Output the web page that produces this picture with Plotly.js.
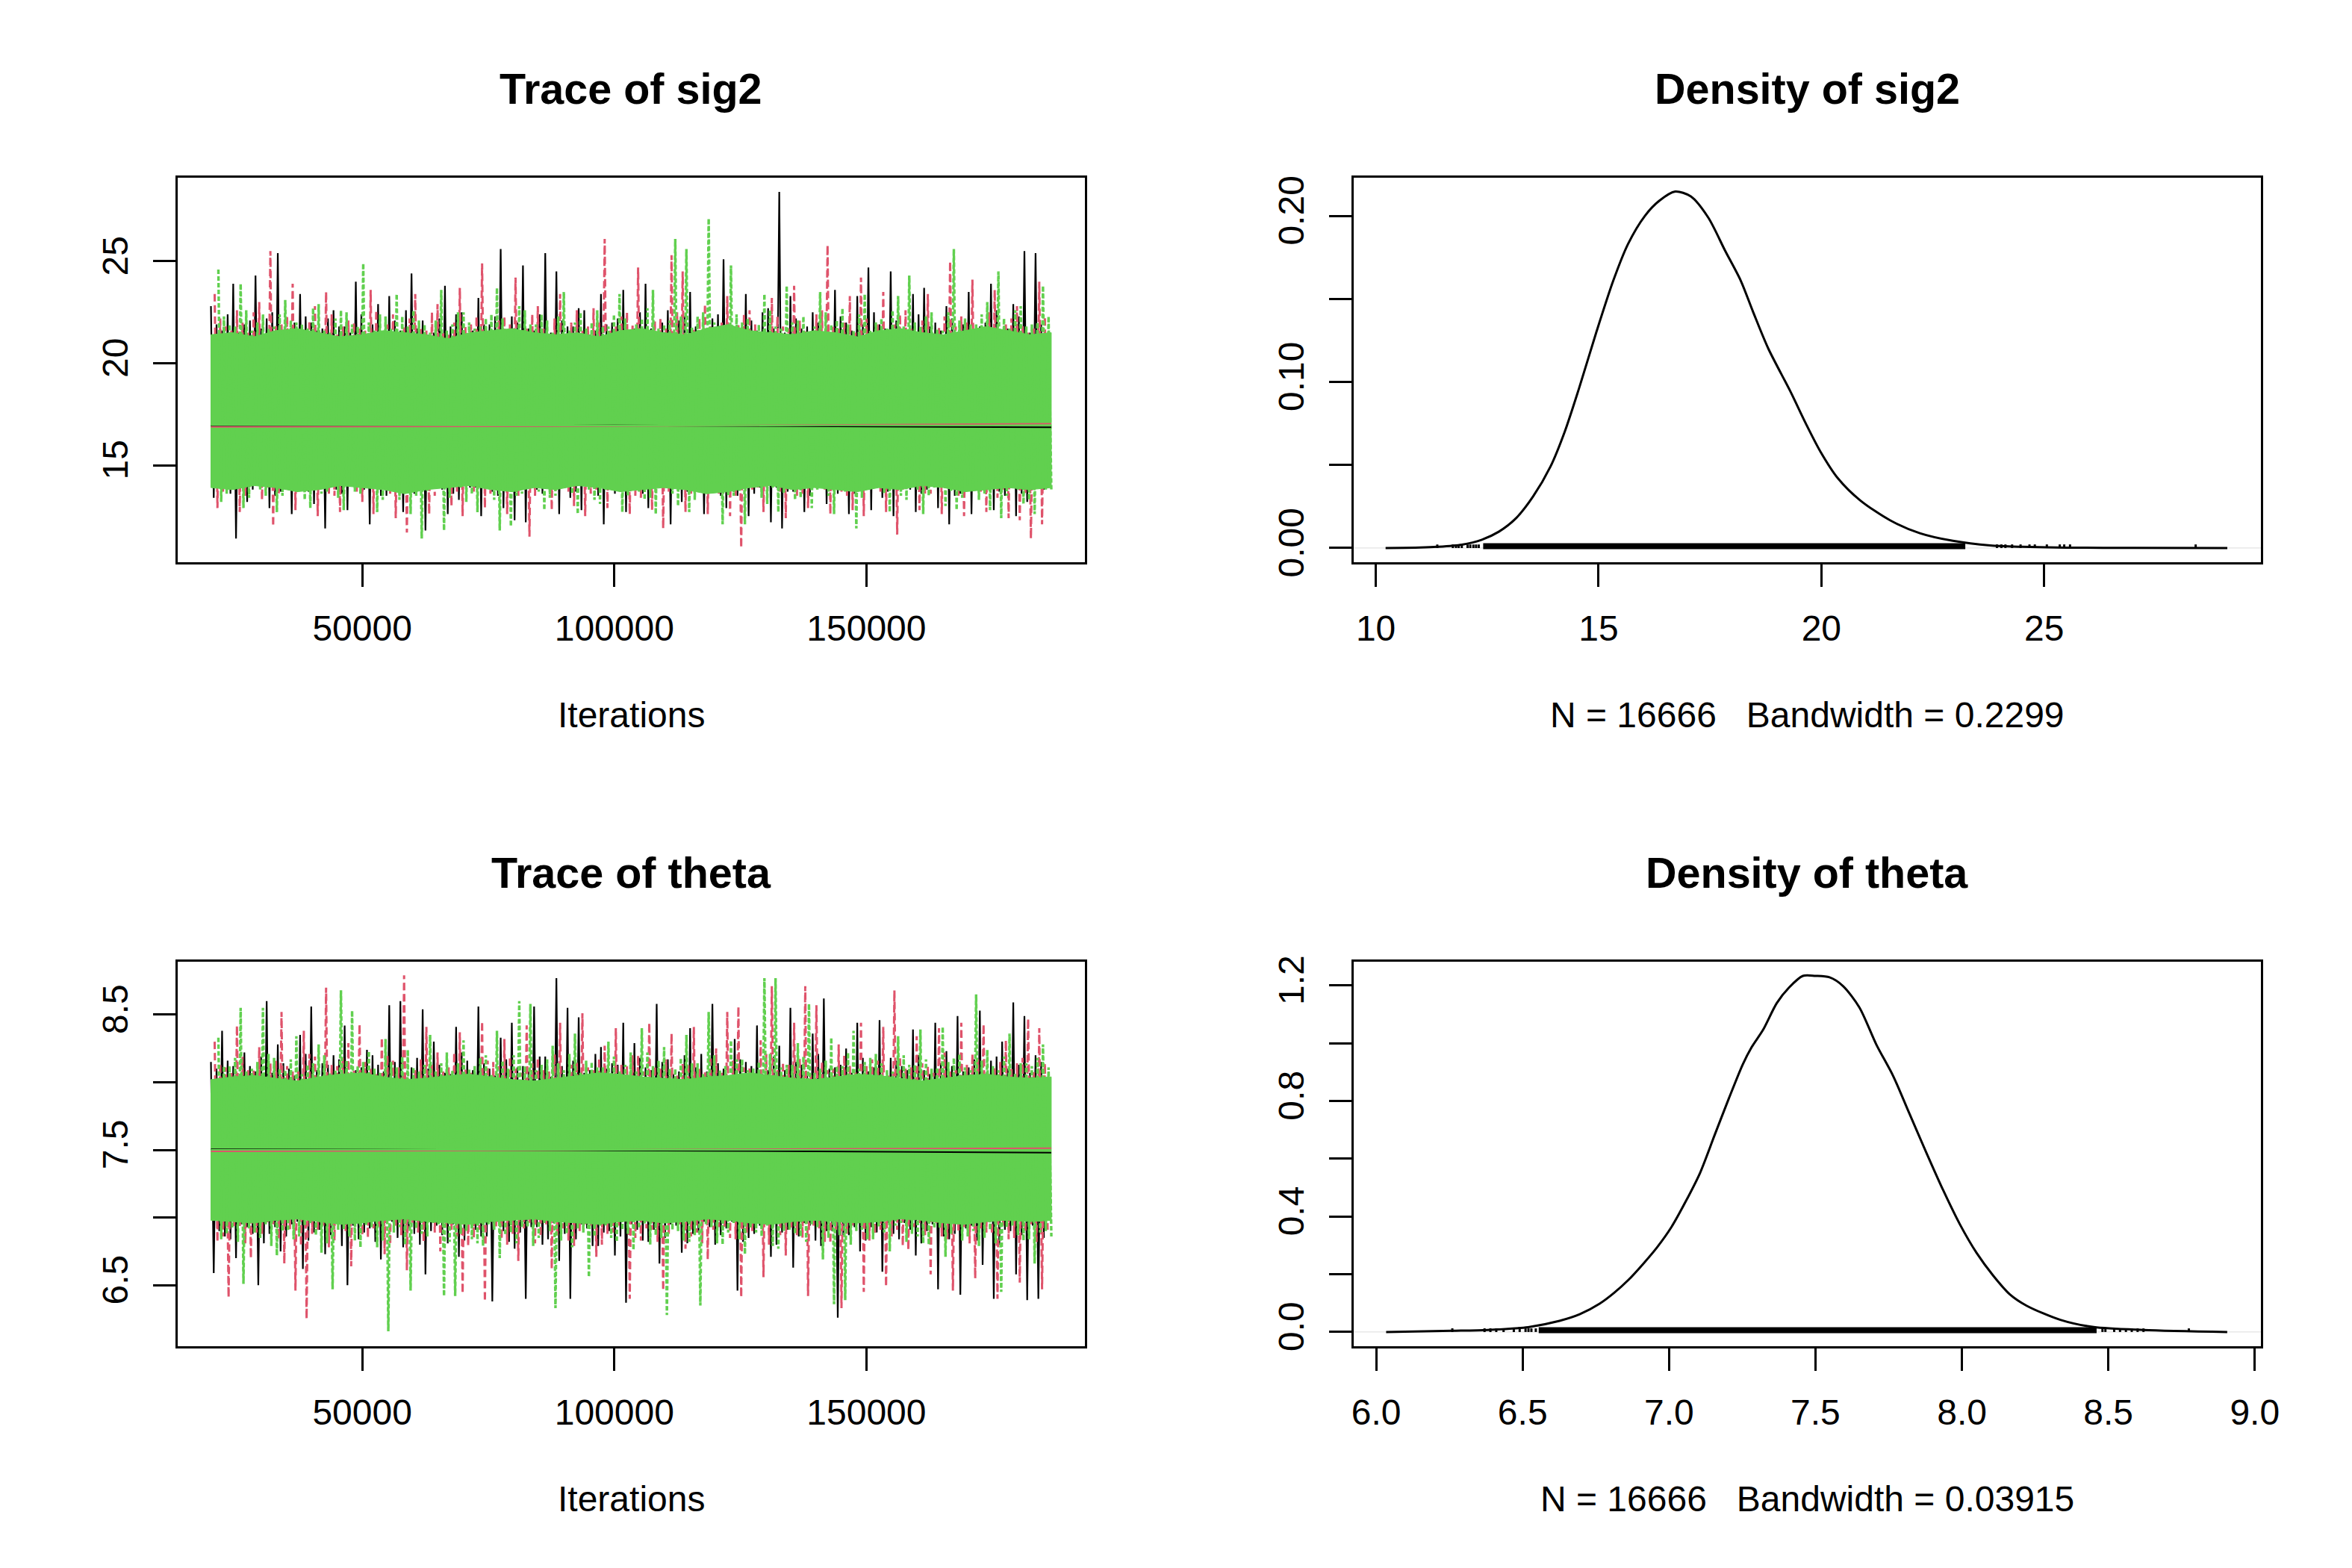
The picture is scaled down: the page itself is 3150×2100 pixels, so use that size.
<!DOCTYPE html>
<html><head><meta charset="utf-8">
<script src="https://cdn.plot.ly/plotly-3.0.1.min.js"></script>
<style>html,body{margin:0;padding:0;background:#fff}#chart{width:3150px;height:2100px}</style>
</head><body><div id="chart"></div><script>
// ---------------- data ----------------
const iterStart = 20000, iterEnd = 186650, blockWidth = 2210;
const traceIterRange = [13334, 193326];

// sig2 trace: per block, the large extremes (Hi/Lo) and the secondary extremes (Hi2/Lo2) of each chain
const sig2BlackHi = [22.8,21.6,23.9,21.9,24.3,22.2,25.4,21.5,23.4,22.0,21.7,22.6,21.8,24.0,21.4,22.9,23.3,21.6,24.4,22.1,21.5,23.8,22.4,21.3,23.2,21.9,25.6,22.3,24.8,21.6,25.4,24.5,21.8,22.7,21.4,23.4,22.0,23.6,21.7,23.9,21.5,22.6,22.1,23.5,21.4,22.2,25.1,21.8,23.4,21.6,22.7,28.4,23.3,21.7,22.5,21.5,23.6,22.0,23.3,24.7,21.9,24.5,21.6,23.4,23.7,22.0,22.8,21.5,23.5,21.8,23.9,21.6,22.9,25.5,25.4];
const sig2BlackLo = [13.4,13.9,11.4,13.2,14.0,12.9,13.7,12.6,14.1,13.1,11.9,13.8,12.8,14.0,12.1,13.5,13.9,12.7,13.6,11.8,14.1,12.6,13.3,13.9,12.5,13.7,12.9,12.3,12.2,13.8,14.0,12.6,13.4,12.8,14.1,12.1,13.6,12.7,13.9,12.9,14.0,12.1,13.2,13.8,12.6,14.1,12.9,13.5,12.5,13.9,12.2,11.9,13.7,12.7,14.0,13.1,13.6,12.6,13.9,12.8,13.4,12.5,14.1,12.7,13.8,12.9,12.1,13.6,12.6,14.0,12.8,13.5,12.5,13.2,13.9];
const sig2BlackHi2 = [21.9,22.4,21.5,22.1,21.7,22.5,21.4,22.0,22.3,21.6,22.2,21.8,21.5,22.4,21.9,21.3,22.1,22.6,21.7,21.4,22.2,21.8,22.5,21.6,21.9,22.3,21.4,22.0,21.7,22.4,21.5,22.1,21.8,22.6,21.6,21.9,22.2,21.4,22.5,21.7,22.0,21.5,22.3,21.8,21.6,22.4,21.9,21.3,22.1,22.5,21.7,21.5,22.2,21.8,22.0,21.4,22.3,21.6,21.9,22.5,21.7,22.1,21.5,22.4,21.8,21.6,22.2,21.9,21.4,22.0,22.6,21.7,22.3,21.5,21.9];
const sig2BlackLo2 = [13.9,13.6,14.2,13.8,14.3,13.5,14.0,14.2,13.7,14.4,13.9,13.6,14.1,13.8,14.3,13.5,14.0,13.7,14.2,14.4,13.8,13.6,14.1,13.9,14.3,13.5,14.0,13.8,14.2,13.6,14.4,13.9,13.7,14.1,13.5,14.2,13.8,14.3,13.6,14.0,13.9,14.2,13.7,14.4,13.8,13.5,14.1,14.0,13.6,14.3,13.9,13.7,14.2,13.5,14.0,13.8,14.4,13.6,14.1,13.9,13.7,14.3,13.8,13.6,14.2,14.0,13.5,14.1,13.9,14.3,13.7,14.0,13.6,14.2,13.8];
const sig2RedHi = [23.4,21.8,22.6,21.5,23.0,25.5,21.9,23.9,21.6,22.8,23.5,21.4,22.1,21.7,23.6,21.5,22.4,21.8,23.4,21.6,22.9,21.4,23.7,21.9,24.9,21.5,22.3,24.2,21.7,22.8,21.4,23.4,22.0,21.6,22.7,26.1,21.8,22.5,24.7,21.5,22.2,25.3,24.5,21.7,22.9,21.5,23.3,21.9,22.6,21.4,23.2,21.8,23.8,21.6,22.4,25.8,21.7,23.3,24.2,21.5,23.5,21.9,22.6,21.4,23.4,21.8,25.0,22.3,24.1,21.6,23.6,21.9,22.8,21.5,24.0];
const sig2RedLo = [12.9,13.8,12.7,14.0,13.3,12.0,13.9,12.8,14.1,12.5,13.6,12.7,14.0,13.2,12.6,13.8,12.4,11.7,13.9,12.6,14.1,13.0,12.5,13.7,12.9,14.0,12.6,13.5,11.5,13.9,12.8,14.1,13.0,12.5,13.8,12.9,14.0,12.6,13.4,12.8,11.9,13.9,12.7,14.0,12.6,13.6,12.5,10.95,13.8,12.7,14.1,12.4,13.5,12.9,14.0,12.6,13.7,12.8,12.5,13.9,12.7,11.6,14.0,12.8,13.6,12.6,13.9,12.5,14.1,12.7,13.4,12.4,12.3,11.4,12.1];
const sig2RedHi2 = [22.2,21.6,22.0,22.5,21.4,21.9,22.3,21.7,22.1,21.5,22.4,21.8,22.0,21.6,22.6,21.9,21.4,22.2,21.7,22.5,21.5,22.0,21.8,22.3,21.6,22.1,21.9,21.4,22.4,21.7,22.2,21.5,22.6,21.8,22.0,21.6,22.3,21.9,21.5,22.1,21.7,22.5,21.4,22.2,21.8,22.0,21.6,22.4,21.9,21.5,22.3,21.7,22.1,21.4,22.6,21.8,22.0,21.5,22.2,21.9,21.6,22.4,21.7,22.1,21.5,22.3,21.8,22.0,21.4,22.5,21.6,22.2,21.9,21.7,22.3];
const sig2RedLo2 = [13.7,14.1,13.5,14.3,13.9,13.6,14.2,14.0,13.8,14.4,13.5,14.1,13.7,14.3,13.9,13.6,14.2,13.8,14.0,13.5,14.4,13.7,14.1,13.9,13.6,14.3,13.8,14.0,13.5,14.2,13.9,13.7,14.4,13.6,14.1,13.8,14.0,13.5,14.3,13.9,13.7,14.2,13.6,14.0,14.4,13.8,13.5,14.1,13.9,14.3,13.7,14.0,13.6,14.2,13.8,14.4,13.5,14.1,13.9,13.7,14.3,13.8,14.0,13.6,14.2,13.9,13.5,14.4,13.7,14.1,13.8,14.0,13.6,14.3,13.9];
const sig2GreenHi = [24.6,21.9,23.9,21.6,22.4,21.8,23.1,22.0,21.7,22.9,21.5,22.6,21.9,24.9,21.6,22.3,23.4,21.8,22.1,21.5,23.6,21.9,22.5,21.7,22.2,23.7,21.6,22.8,21.9,22.4,21.5,23.5,22.0,21.7,22.6,21.8,23.4,21.6,22.2,23.6,21.9,26.1,25.6,22.3,27.1,21.7,24.8,22.0,21.6,23.4,21.8,23.8,22.1,21.5,23.5,21.9,22.7,21.6,23.4,22.0,21.7,23.3,24.3,21.8,22.5,21.6,25.6,22.2,21.9,23.0,24.5,21.7,22.8,21.9,23.8];
const sig2GreenLo = [13.2,13.9,12.9,14.1,13.5,12.7,13.8,14.0,12.9,13.6,14.1,12.8,13.7,14.0,12.7,13.9,13.3,12.6,11.4,13.8,11.8,14.0,13.2,12.7,13.9,11.8,12.0,13.6,14.1,12.8,13.5,14.0,12.6,13.8,13.1,14.1,12.7,13.9,13.3,12.6,14.0,13.0,12.7,13.8,14.1,12.1,13.5,12.1,14.0,13.1,12.7,13.9,13.4,12.9,14.1,12.6,13.7,11.9,13.8,14.0,12.7,13.5,14.1,12.6,13.9,13.0,12.8,14.0,13.3,12.8,12.4,13.9,13.1,12.6,13.8];
const sig2GreenHi2 = [22.3,21.8,22.6,22.0,21.7,22.4,22.1,21.9,22.7,21.6,22.2,22.5,21.8,22.0,22.4,21.7,22.3,22.6,21.9,22.1,21.6,22.5,22.0,21.8,22.4,22.2,21.7,22.6,21.9,22.1,22.3,21.6,22.5,22.0,21.8,22.4,22.2,21.9,22.7,21.7,22.1,22.3,21.8,22.5,22.0,21.6,22.4,22.2,21.9,22.6,21.7,22.0,22.3,21.8,22.5,22.1,21.9,22.4,21.6,22.2,22.6,21.8,22.0,22.3,21.7,22.5,22.1,21.9,22.4,21.6,22.2,22.6,21.8,22.0,22.3];
const sig2GreenLo2 = [13.6,14.0,13.4,13.8,14.1,13.5,13.9,13.3,14.0,13.7,13.4,14.1,13.6,13.9,13.3,13.8,14.0,13.5,13.7,14.1,13.4,13.9,13.6,14.0,13.3,13.8,13.5,14.1,13.7,13.4,13.9,13.6,14.0,13.3,13.8,14.1,13.5,13.7,13.4,14.0,13.6,13.9,13.3,13.8,14.1,13.5,13.7,14.0,13.4,13.9,13.6,13.3,14.1,13.8,13.5,14.0,13.7,13.4,13.9,13.6,14.1,13.3,13.8,13.5,14.0,13.7,13.4,13.9,13.6,14.1,13.5,13.8,13.3,14.0,13.7];
// edge of the mostly solid green core of the band (40 evenly spaced knots)
const sig2CoreHi = [21.4,21.5,21.3,21.6,21.7,21.5,21.3,21.4,21.6,21.5,21.4,21.2,21.5,21.6,21.7,21.5,21.4,21.5,21.3,21.6,21.7,21.5,21.4,21.7,21.9,21.6,21.5,21.4,21.6,21.5,21.3,21.6,21.7,21.5,21.4,21.6,21.8,21.6,21.4,21.5];
const sig2CoreLo = [13.9,13.8,14.0,13.9,13.7,13.8,14.0,13.9,13.8,13.6,13.8,13.9,14.0,13.8,13.7,13.9,13.8,14.0,13.9,13.7,13.8,13.9,13.8,13.6,13.7,13.9,14.0,13.8,13.9,13.8,13.7,13.9,13.8,14.0,13.9,13.7,13.8,13.9,13.8,13.9];
// smooth (lowess) lines of each chain
const smoothIter = [20000, 60000, 100000, 140000, 186650];
const sig2SmoothBlack = [16.93, 16.92, 16.95, 16.92, 16.86];
const sig2SmoothRed = [16.88, 16.89, 16.92, 16.97, 17.03];
const sig2SmoothGreen = [16.97, 16.95, 16.94, 16.95, 16.96];

// theta trace
const thetaBlackHi = [8.15,8.38,8.12,8.22,8.08,8.60,8.28,8.10,8.35,8.56,8.14,8.20,8.42,8.09,8.24,8.13,8.57,8.60,8.11,8.54,8.30,8.07,8.41,8.16,8.56,8.10,8.33,8.44,8.12,8.56,8.19,8.77,8.55,8.48,8.09,8.26,8.14,8.44,8.29,8.11,8.58,8.17,8.08,8.40,8.21,8.58,8.10,8.32,8.15,8.42,8.09,8.27,8.55,8.13,8.36,8.62,8.11,8.25,8.44,8.08,8.46,8.18,8.12,8.39,8.09,8.44,8.23,8.49,8.11,8.53,8.16,8.30,8.59,8.49,8.20];
const thetaBlackLo = [6.59,6.86,6.70,6.93,6.50,6.88,6.75,6.95,6.62,6.89,6.73,6.96,6.50,6.84,6.92,6.69,6.97,6.78,6.88,6.58,6.94,6.81,6.71,6.96,6.86,6.38,6.90,6.77,6.40,6.93,6.84,6.68,6.40,6.95,6.79,6.89,6.72,6.37,6.91,6.82,6.66,6.95,6.74,6.88,6.97,6.80,6.92,6.46,6.85,6.94,6.71,6.89,6.63,6.96,6.83,6.90,6.26,6.87,6.75,6.93,6.60,6.88,6.96,6.72,6.90,6.47,6.84,6.43,6.94,6.65,6.40,6.91,6.58,6.39,6.40];
const thetaBlackHi2 = [8.10,8.16,8.04,8.12,8.19,8.07,8.14,8.05,8.21,8.09,8.13,8.17,8.06,8.11,8.20,8.08,8.15,8.03,8.18,8.10,8.13,8.06,8.22,8.09,8.14,8.05,8.17,8.11,8.08,8.19,8.04,8.12,8.16,8.07,8.21,8.10,8.13,8.05,8.18,8.09,8.15,8.06,8.20,8.11,8.08,8.14,8.03,8.17,8.12,8.06,8.19,8.09,8.15,8.05,8.21,8.10,8.13,8.07,8.18,8.11,8.04,8.16,8.09,8.20,8.06,8.14,8.12,8.08,8.17,8.05,8.19,8.10,8.13,8.07,8.15];
const thetaBlackLo2 = [6.90,6.84,6.95,6.88,6.81,6.93,6.86,6.97,6.83,6.91,6.87,6.79,6.94,6.89,6.82,6.96,6.85,6.92,6.80,6.90,6.87,6.95,6.83,6.91,6.86,6.97,6.82,6.89,6.93,6.80,6.96,6.88,6.84,6.92,6.79,6.90,6.86,6.95,6.83,6.91,6.85,6.94,6.81,6.89,6.93,6.87,6.97,6.82,6.88,6.95,6.80,6.91,6.86,6.94,6.79,6.90,6.87,6.93,6.83,6.89,6.96,6.84,6.91,6.81,6.95,6.86,6.88,6.92,6.83,6.97,6.80,6.90,6.87,6.94,6.85];
const thetaRedHi = [8.30,8.11,8.42,8.09,8.26,8.14,8.52,8.08,8.38,8.19,8.70,8.12,8.29,8.43,8.10,8.33,8.16,8.79,8.09,8.41,8.22,8.11,8.37,8.07,8.45,8.15,8.32,8.10,8.42,8.18,8.08,8.44,8.13,8.51,8.09,8.27,8.40,8.12,8.20,8.44,8.10,8.36,8.14,8.41,8.08,8.25,8.52,8.56,8.11,8.31,8.71,8.15,8.44,8.71,8.57,8.09,8.28,8.13,8.44,8.17,8.41,8.68,8.10,8.34,8.12,8.40,8.08,8.44,8.21,8.43,8.11,8.31,8.14,8.47,8.40];
const thetaRedLo = [6.82,6.41,6.93,6.70,6.88,6.95,6.66,6.46,6.25,6.90,6.78,6.96,6.64,6.87,6.92,6.73,6.94,6.61,6.89,6.97,6.75,6.91,6.44,6.85,6.38,6.93,6.80,6.68,6.96,6.86,6.62,6.92,6.79,6.95,6.71,6.88,6.94,6.40,6.83,6.91,6.46,6.96,6.77,6.89,6.69,6.93,6.85,6.41,6.90,6.56,6.95,6.72,6.87,6.42,6.92,6.81,6.33,6.94,6.45,6.88,6.49,6.91,6.76,6.96,6.58,6.86,6.46,6.93,6.55,6.89,6.40,6.84,6.52,6.95,6.47];
const thetaRedHi2 = [8.14,8.07,8.19,8.10,8.04,8.16,8.12,8.08,8.21,8.05,8.13,8.18,8.09,8.15,8.06,8.20,8.11,8.03,8.17,8.13,8.08,8.22,8.10,8.05,8.16,8.12,8.19,8.07,8.14,8.09,8.21,8.04,8.15,8.11,8.18,8.06,8.13,8.20,8.08,8.12,8.17,8.05,8.14,8.10,8.19,8.07,8.16,8.11,8.03,8.21,8.09,8.13,8.18,8.06,8.15,8.10,8.20,8.08,8.12,8.16,8.05,8.19,8.11,8.14,8.07,8.22,8.09,8.13,8.17,8.06,8.15,8.11,8.18,8.08,8.14];
const thetaRedLo2 = [6.86,6.93,6.81,6.89,6.96,6.84,6.91,6.79,6.88,6.94,6.83,6.90,6.97,6.85,6.92,6.80,6.87,6.95,6.82,6.89,6.93,6.86,6.79,6.91,6.96,6.84,6.88,6.92,6.81,6.95,6.87,6.83,6.90,6.94,6.80,6.89,6.97,6.85,6.92,6.82,6.88,6.95,6.86,6.81,6.91,6.93,6.84,6.89,6.96,6.80,6.87,6.92,6.85,6.94,6.82,6.90,6.88,6.96,6.83,6.91,6.86,6.79,6.93,6.87,6.95,6.84,6.90,6.81,6.92,6.88,6.94,6.85,6.89,6.82,6.91];
const thetaGreenHi = [8.33,8.12,8.55,8.10,8.55,8.18,8.09,8.34,8.13,8.28,8.07,8.68,8.53,8.15,8.10,8.32,8.11,8.24,8.08,8.35,8.14,8.09,8.31,8.12,8.20,8.38,8.10,8.60,8.58,8.13,8.27,8.09,8.36,8.16,8.11,8.30,8.08,8.22,8.40,8.12,8.26,8.10,8.35,8.14,8.52,8.09,8.31,8.17,8.11,8.77,8.77,8.13,8.29,8.58,8.10,8.33,8.12,8.38,8.15,8.21,8.09,8.34,8.13,8.39,8.10,8.41,8.18,8.11,8.65,8.24,8.09,8.36,8.14,8.12,8.28];
const thetaGreenLo = [6.84,6.92,6.51,6.89,6.95,6.72,6.90,6.86,6.96,6.74,6.47,6.91,6.83,6.94,6.78,6.16,6.93,6.46,6.88,6.96,6.42,6.42,6.90,6.81,6.95,6.70,6.89,6.93,6.79,6.96,6.33,6.88,6.92,6.56,6.94,6.85,6.91,6.76,6.95,6.87,6.28,6.90,6.82,6.35,6.93,6.80,6.96,6.73,6.89,6.94,6.77,6.91,6.86,6.95,6.69,6.36,6.39,6.90,6.84,6.93,6.75,6.96,6.88,6.81,6.92,6.71,6.95,6.86,6.79,6.91,6.45,6.94,6.83,6.66,6.90];
const thetaGreenHi2 = [8.12,8.18,8.08,8.15,8.21,8.10,8.17,8.06,8.14,8.20,8.09,8.16,8.12,8.23,8.07,8.15,8.19,8.11,8.13,8.08,8.22,8.14,8.10,8.18,8.06,8.16,8.20,8.12,8.09,8.17,8.14,8.21,8.07,8.15,8.11,8.19,8.13,8.08,8.22,8.16,8.10,8.18,8.14,8.06,8.20,8.12,8.17,8.09,8.15,8.21,8.11,8.13,8.19,8.07,8.16,8.12,8.22,8.10,8.18,8.14,8.08,8.20,8.13,8.17,8.11,8.15,8.21,8.09,8.16,8.12,8.19,8.07,8.14,8.18,8.11];
const thetaGreenLo2 = [6.88,6.82,6.92,6.85,6.79,6.90,6.84,6.94,6.87,6.81,6.91,6.86,6.78,6.93,6.83,6.89,6.80,6.92,6.86,6.95,6.82,6.88,6.84,6.79,6.91,6.87,6.81,6.93,6.85,6.90,6.83,6.78,6.89,6.86,6.94,6.82,6.88,6.92,6.80,6.85,6.91,6.83,6.87,6.95,6.81,6.89,6.84,6.92,6.86,6.79,6.90,6.88,6.82,6.93,6.85,6.87,6.80,6.91,6.84,6.89,6.94,6.82,6.86,6.80,6.92,6.88,6.83,6.90,6.85,6.81,6.93,6.87,6.84,6.89,6.86];
const thetaCoreHi = [8.02,8.04,8.05,8.03,8.01,8.04,8.06,8.07,8.04,8.02,8.03,8.05,8.06,8.04,8.02,8.01,8.03,8.05,8.07,8.06,8.04,8.03,8.02,8.04,8.05,8.07,8.05,8.03,8.02,8.04,8.06,8.05,8.03,8.01,8.03,8.05,8.06,8.04,8.03,8.04];
const thetaCoreLo = [6.98,6.97,6.96,6.98,6.99,6.97,6.95,6.96,6.98,6.99,6.97,6.96,6.95,6.97,6.98,6.99,6.97,6.96,6.95,6.97,6.98,6.96,6.97,6.99,6.98,6.96,6.95,6.97,6.98,6.97,6.96,6.97,6.99,6.98,6.96,6.95,6.97,6.98,6.97,6.98];
const thetaSmoothBlack = [7.505, 7.502, 7.497, 7.490, 7.480];
const thetaSmoothRed = [7.490, 7.493, 7.500, 7.507, 7.513];
const thetaSmoothGreen = [7.500, 7.500, 7.500, 7.500, 7.500];

// density of sig2
const sig2DensX = [10.22,11.0,11.38,11.93,12.38,12.76,13.15,13.53,13.92,14.24,14.56,14.95,15.33,15.66,16.04,16.36,16.72,17.07,17.46,17.84,18.19,18.47,18.81,19.31,19.65,19.98,20.37,20.87,21.54,22.21,22.95,23.79,24.5,25.5,27.0,29.11];
const sig2DensY = [0,0.0003,0.0007,0.002,0.005,0.0098,0.018,0.031,0.049,0.070,0.096,0.130,0.161,0.183,0.200,0.209,0.2146,0.2117,0.199,0.179,0.161,0.142,0.120,0.094,0.075,0.058,0.042,0.0287,0.0167,0.0089,0.0043,0.0015,0.0007,0.0002,0.0001,0];
const sig2RugObs = [11.38,11.73,11.80,11.86,11.93,12.06,12.12,12.19,12.25,12.31,23.94,24.04,24.13,24.28,24.47,24.67,24.79,25.06,25.35,25.45,25.58,28.40];
const sig2RugDense = [12.41, 23.23];
const sig2DensRange = [9.496, 29.864], sig2DensYRange = [-0.00858, 0.22318];
const sig2TraceYRange = [10.241, 29.119];

// density of theta
const thetaDensX = [6.034,6.26,6.38,6.519,6.626,6.695,6.763,6.812,6.861,6.910,6.959,7.008,7.057,7.106,7.155,7.204,7.252,7.282,7.321,7.368,7.41,7.457,7.50,7.548,7.594,7.65,7.708,7.765,7.82,7.879,7.936,7.993,8.05,8.107,8.164,8.221,8.336,8.45,8.62,8.906];
const thetaDensY = [0,0.004,0.007,0.0168,0.0385,0.0613,0.0979,0.135,0.180,0.234,0.293,0.363,0.452,0.551,0.680,0.808,0.927,0.986,1.046,1.139,1.193,1.233,1.233,1.228,1.198,1.124,0.995,0.887,0.758,0.620,0.491,0.373,0.274,0.195,0.130,0.091,0.042,0.017,0.007,0];
const thetaRugObs = [6.26,6.37,6.39,6.41,6.435,6.47,6.49,6.51,6.52,6.53,6.545,8.48,8.49,8.52,8.54,8.56,8.58,8.60,8.62,8.775];
const thetaRugDense = [6.555, 8.46];
const thetaDensRange = [5.922, 9.021], thetaDensYRange = [-0.0494, 1.2834];
const thetaTraceYRange = [6.049, 8.894];

// texts
const titles = ['Trace of sig2', 'Density of sig2', 'Trace of theta', 'Density of theta'];
const xLabels = ['Iterations', 'N = 16666   Bandwidth = 0.2299', 'Iterations', 'N = 16666   Bandwidth = 0.03915'];
const traceXTicks = [50000, 100000, 150000];
const sig2TraceYTicks = [15, 20, 25];
const thetaTraceYTicks = [6.5, 7.0, 7.5, 8.0, 8.5];
const thetaTraceYText = ['6.5', '', '7.5', '', '8.5'];
const sig2DensXTicks = [10, 15, 20, 25];
const sig2DensYTicks = [0, 0.05, 0.10, 0.15, 0.20];
const sig2DensYText = ['0.00', '', '0.10', '', '0.20'];
const thetaDensXTicks = [6.0, 6.5, 7.0, 7.5, 8.0, 8.5, 9.0];
const thetaDensYTicks = [0, 0.2, 0.4, 0.6, 0.8, 1.0, 1.2];
const thetaDensYText = ['0.0', '', '0.4', '', '0.8', '', '1.2'];

// ---------------- drawing ----------------
const FONT = '"Liberation Sans", Arial, Helvetica, sans-serif';
const W = 3150, H = 2100;
const colBlack = '#000000', colRed = '#DF536B', colGreen = '#61D04F';
const chainOffset = [0, blockWidth / 3, 2 * blockWidth / 3];
const colL = [237.5, 1453], colR = [1812.5, 3028], rowT = [237.5, 753], rowB = [1287.5, 1803];
const dx = p => [p[0] / W, p[1] / W];
const dy = p => [1 - p[1] / H, 1 - p[0] / H];

// each block of a chain: big high, big low, secondary high, secondary low
function zigzag(hi, lo, hi2, lo2, k, color, dash, width, xa, ya) {
  const x = [], y = [];
  for (let j = 0; j < hi.length; j++) {
    const base = iterStart + j * blockWidth + chainOffset[k];
    x.push(base, base + blockWidth / 4, base + blockWidth / 2, base + 3 * blockWidth / 4);
    y.push(hi[j], lo[j], hi2[j], lo2[j]);
  }
  return {type: 'scatter', mode: 'lines', x, y, xaxis: xa, yaxis: ya, hoverinfo: 'skip',
    line: {color, width, dash}};
}
function core(hi, lo, xa, ya) {
  const n = hi.length, step = (iterEnd - iterStart) / (n - 1);
  const it = hi.map((_, i) => iterStart + i * step);
  const x = it.concat(it.slice().reverse(), [it[0]]);
  const y = hi.concat(lo.slice().reverse(), [hi[0]]);
  return {type: 'scatter', mode: 'lines', x, y, xaxis: xa, yaxis: ya, fill: 'toself',
    fillcolor: colGreen, line: {width: 1, color: colGreen}, hoverinfo: 'skip'};
}
function smooth(vals, color, xa, ya) {
  return {type: 'scatter', mode: 'lines', x: smoothIter, y: vals, xaxis: xa, yaxis: ya,
    line: {color, width: 2}, hoverinfo: 'skip'};
}
function traceSet(p, xa, ya) {
  return [
    zigzag(p.bh, p.bl, p.bh2, p.bl2, 0, colBlack, 'solid', 2.2, xa, ya),
    zigzag(p.rh, p.rl, p.rh2, p.rl2, 1, colRed, '10px,5px', 3, xa, ya),
    core(p.ch, p.cl, xa, ya),
    zigzag(p.gh, p.gl, p.gh2, p.gl2, 2, colGreen, '6px,3px', 3.4, xa, ya),
    smooth(p.sb, colBlack, xa, ya),
    smooth(p.sr, colRed, xa, ya),
    smooth(p.sg, colGreen, xa, ya)
  ];
}
function densSet(dxs, dys, obs, dense, xa, ya) {
  const h = Math.max.apply(null, dys) / 100;
  const rx = [], ry = [];
  obs.forEach(v => { rx.push(v, v, null); ry.push(0, h, null); });
  return [
    {type: 'scatter', mode: 'lines', x: rx, y: ry, xaxis: xa, yaxis: ya, line: {color: '#000', width: 3}, hoverinfo: 'skip'},
    {type: 'scatter', mode: 'lines', x: dense, y: [h / 2, h / 2], xaxis: xa, yaxis: ya, line: {color: '#000', width: 8}, hoverinfo: 'skip'},
    {type: 'scatter', mode: 'lines', x: dxs, y: dys, xaxis: xa, yaxis: ya, line: {color: '#000', width: 3, shape: 'spline', smoothing: 0.8}, hoverinfo: 'skip'}
  ];
}

const data = [].concat(
  traceSet({bh: sig2BlackHi, bl: sig2BlackLo, bh2: sig2BlackHi2, bl2: sig2BlackLo2,
            rh: sig2RedHi, rl: sig2RedLo, rh2: sig2RedHi2, rl2: sig2RedLo2,
            gh: sig2GreenHi, gl: sig2GreenLo, gh2: sig2GreenHi2, gl2: sig2GreenLo2,
            ch: sig2CoreHi, cl: sig2CoreLo, sb: sig2SmoothBlack, sr: sig2SmoothRed, sg: sig2SmoothGreen}, 'x', 'y'),
  densSet(sig2DensX, sig2DensY, sig2RugObs, sig2RugDense, 'x2', 'y2'),
  traceSet({bh: thetaBlackHi, bl: thetaBlackLo, bh2: thetaBlackHi2, bl2: thetaBlackLo2,
            rh: thetaRedHi, rl: thetaRedLo, rh2: thetaRedHi2, rl2: thetaRedLo2,
            gh: thetaGreenHi, gl: thetaGreenLo, gh2: thetaGreenHi2, gl2: thetaGreenLo2,
            ch: thetaCoreHi, cl: thetaCoreLo, sb: thetaSmoothBlack, sr: thetaSmoothRed, sg: thetaSmoothGreen}, 'x3', 'y3'),
  densSet(thetaDensX, thetaDensY, thetaRugObs, thetaRugDense, 'x4', 'y4')
);

function ax(extra) {
  return Object.assign({showline: true, mirror: true, linecolor: '#000', linewidth: 3,
    ticks: 'outside', ticklen: 30, tickwidth: 3, tickcolor: '#000', showgrid: false, zeroline: false,
    tickfont: {family: FONT, size: 48, color: '#000'}, fixedrange: true, tickmode: 'array', automargin: false}, extra);
}
const xStand = 14, yStand = 14;
const layout = {
  width: W, height: H, margin: {l: 0, r: 0, t: 0, b: 0}, showlegend: false,
  paper_bgcolor: '#fff', plot_bgcolor: '#fff', font: {family: FONT, color: '#000'},
  xaxis: ax({domain: dx(colL), anchor: 'y', range: traceIterRange, tickvals: traceXTicks, ticktext: traceXTicks.map(String), ticklabelstandoff: xStand}),
  yaxis: ax({domain: dy(rowT), anchor: 'x', range: sig2TraceYRange, tickvals: sig2TraceYTicks, ticktext: sig2TraceYTicks.map(String), tickangle: -90, ticklabelstandoff: yStand}),
  xaxis2: ax({domain: dx(colR), anchor: 'y2', range: sig2DensRange, tickvals: sig2DensXTicks, ticktext: sig2DensXTicks.map(String), ticklabelstandoff: xStand}),
  yaxis2: ax({domain: dy(rowT), anchor: 'x2', range: sig2DensYRange, tickvals: sig2DensYTicks, ticktext: sig2DensYText, tickangle: -90, ticklabelstandoff: yStand}),
  xaxis3: ax({domain: dx(colL), anchor: 'y3', range: traceIterRange, tickvals: traceXTicks, ticktext: traceXTicks.map(String), ticklabelstandoff: xStand}),
  yaxis3: ax({domain: dy(rowB), anchor: 'x3', range: thetaTraceYRange, tickvals: thetaTraceYTicks, ticktext: thetaTraceYText, tickangle: -90, ticklabelstandoff: yStand}),
  xaxis4: ax({domain: dx(colR), anchor: 'y4', range: thetaDensRange, tickvals: thetaDensXTicks, ticktext: thetaDensXTicks.map(v => v.toFixed(1)), ticklabelstandoff: xStand}),
  yaxis4: ax({domain: dy(rowB), anchor: 'x4', range: thetaDensYRange, tickvals: thetaDensYTicks, ticktext: thetaDensYText, tickangle: -90, ticklabelstandoff: yStand}),
  shapes: [
    {type: 'line', xref: 'x2 domain', yref: 'y2', x0: 0, x1: 1, y0: 0, y1: 0, line: {color: '#dcdcdc', width: 1}, layer: 'below'},
    {type: 'line', xref: 'x4 domain', yref: 'y4', x0: 0, x1: 1, y0: 0, y1: 0, line: {color: '#dcdcdc', width: 1}, layer: 'below'}
  ],
  annotations: []
};
const centersX = [(colL[0] + colL[1]) / 2, (colR[0] + colR[1]) / 2, (colL[0] + colL[1]) / 2, (colR[0] + colR[1]) / 2];
const titleY = [119, 119, 1169, 1169];
const labelY = [957, 957, 2007, 2007];
titles.forEach((t, i) => layout.annotations.push({text: '<b>' + t + '</b>', xref: 'paper', yref: 'paper',
  x: centersX[i] / W, y: 1 - titleY[i] / H, xanchor: 'center', yanchor: 'middle', showarrow: false,
  font: {family: FONT, size: 57.5, color: '#000'}}));
xLabels.forEach((t, i) => layout.annotations.push({text: t.replace(/ /g, '\u00a0'), xref: 'paper', yref: 'paper',
  x: centersX[i] / W, y: 1 - labelY[i] / H, xanchor: 'center', yanchor: 'middle', showarrow: false,
  font: {family: FONT, size: 48, color: '#000'}}));

Plotly.newPlot('chart', data, layout, {staticPlot: true, displayModeBar: false});
</script></body></html>
